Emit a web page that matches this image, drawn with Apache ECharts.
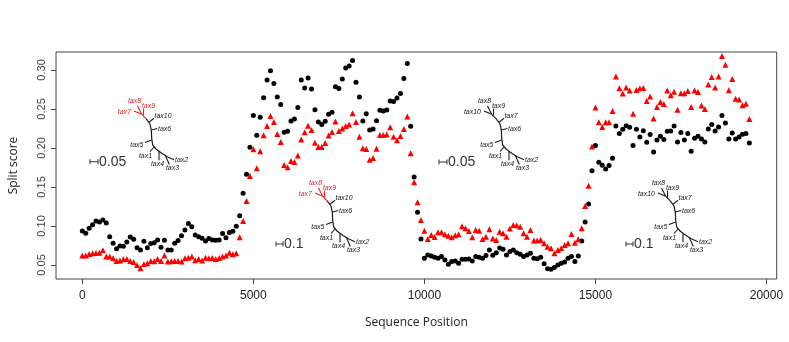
<!DOCTYPE html>
<html><head><meta charset="utf-8">
<script src="https://cdn.jsdelivr.net/npm/echarts@6/dist/echarts.min.js"></script>
<style>html,body{margin:0;padding:0;background:#fff}#c{width:789px;height:342px}</style>
</head><body><div id="c"></div>
<script>
// ---- data ----
const positions = [0,100,200,300,400,500,600,700,800,900,1000,1100,1200,1300,1400,1500,1600,1700,1800,1900,2000,2100,2200,2300,2400,2500,2600,2700,2800,2900,3000,3100,3200,3300,3400,3500,3600,3700,3800,3900,4000,4100,4200,4300,4400,4500,4600,4700,4800,4900,5000,5100,5200,5300,5400,5500,5600,5700,5800,5900,6000,6100,6200,6300,6400,6500,6600,6700,6800,6900,7000,7100,7200,7300,7400,7500,7600,7700,7800,7900,8000,8100,8200,8300,8400,8500,8600,8700,8800,8900,9000,9100,9200,9300,9400,9500,9600,9700,9800,9900,10000,10100,10200,10300,10400,10500,10600,10700,10800,10900,11000,11100,11200,11300,11400,11500,11600,11700,11800,11900,12000,12100,12200,12300,12400,12500,12600,12700,12800,12900,13000,13100,13200,13300,13400,13500,13600,13700,13800,13900,14000,14100,14200,14300,14400,14500,14600,14700,14800,14900,15000,15100,15200,15300,15400,15500,15600,15700,15800,15900,16000,16100,16200,16300,16400,16500,16600,16700,16800,16900,17000,17100,17200,17300,17400,17500,17600,17700,17800,17900,18000,18100,18200,18300,18400,18500,18600,18700,18800,18900,19000,19100,19200,19300,19400,19500];

const blackScores = [
0.0936,0.0906,0.0970,0.1017,0.1064,0.1051,0.1077,0.1038,0.0863,0.0778,
0.0709,0.0744,0.0739,0.0795,0.0859,0.0829,0.0722,0.0692,0.0803,0.0722,
0.0774,0.0786,0.0821,0.0726,0.0816,0.0692,0.0692,0.0778,0.0812,0.0876,
0.0949,0.1030,0.0991,0.0885,0.0863,0.0842,0.0808,0.0838,0.0821,0.0816,
0.0821,0.0902,0.0850,0.0915,0.0932,0.0996,0.1132,0.1419,
0.1662,0.2009,0.2415,0.2162,0.2393,0.2645,0.2872,0.2991,0.2825,0.2654,
0.2556,0.2201,0.2214,0.2346,0.2372,0.2517,0.2872,0.2769,0.2897,0.2756,
0.2491,0.2333,0.2299,0.2342,0.2432,0.2457,0.2786,0.2761,0.2885,0.3026,
0.3051,0.3120,0.2842,0.2654,0.2346,0.2440,0.2231,0.2244,0.2350,0.2483,
0.2474,0.2487,0.2603,0.2594,0.2641,0.2697,0.2889,0.3081,0.2278,0.1628,
0.1175,0.0833,
0.0585,0.0628,0.0615,0.0598,0.0585,0.0607,0.0564,0.0509,0.0543,0.0551,
0.0521,0.0573,0.0573,0.0577,0.0551,0.0607,0.0598,0.0585,0.0620,0.0692,
0.0624,0.0658,0.0718,0.0701,0.0628,0.0671,0.0692,0.0658,0.0637,0.0607,
0.0628,0.0650,0.0585,0.0581,0.0598,0.0517,0.0453,0.0444,0.0466,0.0500,
0.0521,0.0538,0.0585,0.0607,0.0543,0.0615,0.0808,
0.1050,0.1282,
0.1709,0.2030,0.1816,0.1778,0.1731,0.1774,0.1868,0.2282,0.2184,0.2239,
0.2286,0.2265,0.2030,0.2239,0.2141,0.2222,0.2073,0.2171,0.1949,0.2103,
0.2150,0.2107,0.2214,0.2218,0.2282,0.2077,0.2197,0.2103,0.2184,0.1957,
0.2124,0.2150,0.2115,0.2077,0.2244,0.2299,0.2218,0.2269,0.2415,0.2321,
0.2115,0.2192,0.2115,0.2141,0.2175,0.2184,0.2064];

const redScores = [
0.0620,0.0620,0.0641,0.0650,0.0654,0.0658,0.0688,0.0607,0.0607,0.0585,
0.0551,0.0556,0.0573,0.0577,0.0551,0.0538,0.0500,0.0457,0.0513,0.0521,
0.0551,0.0547,0.0577,0.0551,0.0620,0.0543,0.0547,0.0551,0.0551,0.0543,
0.0585,0.0594,0.0607,0.0560,0.0577,0.0556,0.0594,0.0585,0.0590,0.0577,
0.0590,0.0607,0.0620,0.0658,0.0637,0.0650,0.0855,0.1064,
0.1321,
0.1641,0.1983,0.1739,0.1957,0.2162,0.2282,0.2410,0.2333,0.2179,0.2077,
0.1782,0.1752,0.1833,0.1821,0.1902,0.2107,0.2201,0.2286,0.2231,0.2068,
0.2013,0.2013,0.2064,0.2158,0.2205,0.2338,0.2218,0.2248,0.2282,0.2299,
0.2444,0.2333,0.2145,0.1996,0.1987,0.1850,0.1872,0.1991,0.2167,0.2167,
0.2171,0.2265,0.2145,0.2098,0.2154,0.2244,0.2402,0.1932,
0.1560,0.1303,0.1077,
0.0940,0.0833,0.0885,0.0859,0.0919,0.0919,0.0893,0.0876,0.0855,0.0880,
0.0893,0.0996,0.0970,0.0936,0.0855,0.0949,0.0940,0.0833,0.0863,0.0957,
0.0838,0.0821,0.0927,0.0906,0.0863,0.0966,0.1013,0.1009,0.0991,0.0906,
0.0863,0.0949,0.0812,0.0812,0.0821,0.0778,0.0735,0.0714,0.0650,0.0692,
0.0714,0.0756,0.0778,0.0897,0.0786,0.0829,0.0970,0.1256,
0.1517,0.2017,0.2517,0.2329,0.2269,0.2329,0.2329,0.2474,0.2915,0.2765,
0.2697,0.2774,0.2735,0.2440,0.2744,0.2765,0.2769,0.2603,0.2658,0.2376,
0.2526,0.2590,0.2564,0.2735,0.2675,0.2722,0.2491,0.2701,0.2701,0.2731,
0.2526,0.2735,0.2718,0.2543,0.2500,0.2812,0.2910,0.2774,0.2915,0.3179,
0.3068,0.2739,0.2885,0.2632,0.2620,0.2547,0.2568,0.2372];

const xTicks = [0, 5000, 10000, 15000, 20000];
const yTicks = [0.05, 0.10, 0.15, 0.20, 0.25, 0.30];
const xTitle = 'Sequence Position';
const yTitle = 'Split score';
const treeLabelsA = ['tax7','tax8','tax9','tax10','tax6','tax5','tax1','tax4','tax2','tax3'];
const treeLabelsB = ['tax10','tax8','tax9','tax7','tax6','tax5','tax1','tax4','tax2','tax3'];
const scaleTexts = ['0.05','0.1','0.05','0.1'];

// ---- tree decorations ----
const RED = '#ee2222', INK = '#1a1a1a';
function tree(ox, oy, labels, redTop) {
  const els = [];
  const P = (x, y) => [ox + x, oy + y];
  const line = (a, b, c) => els.push({type:'line', silent:true, shape:{x1:ox+a[0],y1:oy+a[1],x2:ox+b[0],y2:oy+b[1]}, style:{stroke:c,lineWidth:1.1}});
  const txt = (t, x, y, al, c) => els.push({type:'text', silent:true, style:{text:t, x:ox+x, y:oy+y, align:al, verticalAlign:'middle', fill:c, font:'italic 7px "Liberation Sans", Arial, sans-serif'}});
  const topC = redTop ? RED : INK;
  els.push({type:'polyline', silent:true, shape:{points:[P(66,33.7),P(70,39),P(71.3,45),P(71.7,53.3),P(72.7,60),P(76,64),P(81.7,68.3),P(87.3,71.7)]}, style:{stroke:INK,lineWidth:1.2,fill:null}});
  line([61.7,29.3],[66,33.7],topC);
  line([61.7,29.3],[54,26],topC);            txt(labels[0], 51, 27, 'right', topC);
  line([61.7,29.3],[57.5,21],topC);          txt(labels[1], 54.5, 16.5, 'center', topC);
  line([63.5,30.5],[63.5,23.5],topC);        txt(labels[2], 68.5, 21.5, 'center', topC);
  line([69,37.3],[74,33.3],INK);             txt(labels[3], 74.5, 31, 'left', INK);
  line([71.3,45],[77.3,43.5],INK);           txt(labels[4], 78, 43.7, 'left', INK);
  line([71.7,55],[65,57.5],INK);             txt(labels[5], 63.5, 60, 'right', INK);
  line([74,62],[70,66.5],INK);               txt(labels[6], 65.5, 71, 'center', INK);
  line([79,66.5],[79,75.3],INK);             txt(labels[7], 77.5, 79, 'center', INK);
  line([87.3,71.7],[94,74.7],INK);           txt(labels[8], 95, 75, 'left', INK);
  line([85.5,70.8],[89.3,79.5],INK);         txt(labels[9], 92.5, 83.3, 'center', INK);
  return els;
}
function scaleBar(x1, x2, y, t) {
  return [
    {type:'line', silent:true, shape:{x1:x1,y1:y,x2:x2,y2:y}, style:{stroke:'#333',lineWidth:1}},
    {type:'line', silent:true, shape:{x1:x1,y1:y-2.5,x2:x1,y2:y+2.5}, style:{stroke:'#333',lineWidth:1}},
    {type:'line', silent:true, shape:{x1:x2,y1:y-2.5,x2:x2,y2:y+2.5}, style:{stroke:'#333',lineWidth:1}},
    {type:'text', silent:true, style:{text:t, x:x2+1, y:y, align:'left', verticalAlign:'middle', fill:'#333', font:'14px "Liberation Sans", Arial, sans-serif'}}
  ];
}
const graphics = [].concat(
  tree(80, 85, treeLabelsA, true),
  tree(261, 167, treeLabelsA, true),
  tree(430, 85, treeLabelsB, false),
  tree(604, 167, treeLabelsB, false),
  scaleBar(90, 98, 161.7, scaleTexts[0]),
  scaleBar(276, 283, 244, scaleTexts[1]),
  scaleBar(439, 447, 162, scaleTexts[2]),
  scaleBar(626, 633, 244, scaleTexts[3])
);

const chart = echarts.init(document.getElementById('c'), null, {renderer:'canvas'});
chart.setOption({
  animation: false,
  backgroundColor: '#fff',
  grid: {left: 47.7, right: 12.3, top: 52, bottom: 63, show: true, borderColor: '#444', borderWidth: 1, backgroundColor: 'transparent'},
  xAxis: {
    type: 'value', min: -770, max: 20300,
    name: xTitle, nameLocation: 'middle', nameGap: 38,
    nameTextStyle: {fontSize: 12, color: '#222', fontFamily: '"Open Sans", sans-serif'},
    axisLine: {show: false, onZero: false},
    axisTick: {show: true, customValues: xTicks, length: 5, lineStyle: {color: '#444'}},
    axisLabel: {customValues: xTicks, fontSize: 12, color: '#222', margin: 11,
      fontFamily: '"Liberation Sans", Arial, sans-serif', formatter: v => String(v)},
    splitLine: {show: false}
  },
  yAxis: {
    type: 'value', min: 0.032, max: 0.323,
    name: yTitle, nameLocation: 'middle', nameGap: 36,
    nameTextStyle: {fontSize: 12, color: '#222', fontFamily: '"Open Sans", sans-serif'},
    axisLine: {show: false, onZero: false},
    axisTick: {show: true, customValues: yTicks, length: 5, lineStyle: {color: '#444'}},
    axisLabel: {customValues: yTicks, rotate: 90, fontSize: 11, color: '#444', margin: 9,
      fontFamily: '"Liberation Sans Narrow", "Liberation Sans", Arial, sans-serif',
      formatter: v => v.toFixed(2)},
    splitLine: {show: false}
  },
  series: [
    {type: 'scatter', name: 'black', symbol: 'circle', symbolSize: 5,
     itemStyle: {color: '#000', opacity: 1}, data: positions.map((p, i) => [p, blackScores[i]])},
    {type: 'scatter', name: 'red', symbol: 'triangle', symbolSize: 6,
     itemStyle: {color: '#ff0000', opacity: 1}, data: positions.map((p, i) => [p, redScores[i]])}
  ],
  graphic: graphics
});
</script></body></html>
